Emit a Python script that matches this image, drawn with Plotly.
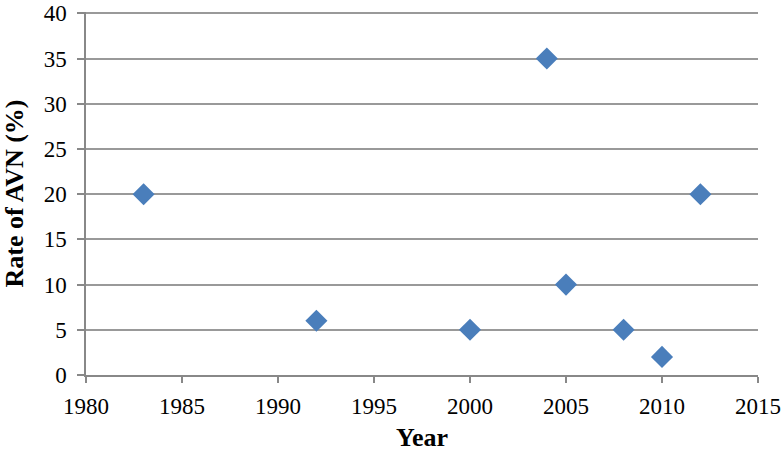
import plotly.graph_objects as go

years = [1983, 1992, 2000, 2004, 2005, 2008, 2010, 2012]
rates = [20, 6, 5, 35, 10, 5, 2, 20]
x_ticks = [1980, 1985, 1990, 1995, 2000, 2005, 2010, 2015]
y_ticks = [0, 5, 10, 15, 20, 25, 30, 35, 40]

fig = go.Figure()
fig.add_trace(go.Scatter(
    x=years, y=rates, mode="markers",
    marker=dict(symbol="diamond", size=17, color="#4a7ebb",
                line=dict(width=0)),
    showlegend=False,
))

font_family = "Liberation Serif"
fig.update_layout(
    width=783, height=452,
    margin=dict(l=86, r=25, t=12, b=77),
    paper_bgcolor="white", plot_bgcolor="white",
    font=dict(family=font_family, size=23, color="black"),
    xaxis=dict(
        range=[1980, 2015], tickvals=x_ticks, showgrid=False,
        showline=True, linecolor="#888888", linewidth=1.5,
        ticks="outside", ticklen=6, tickcolor="#888888", tickwidth=1.5,
        zeroline=False, automargin=False, ticklabelstandoff=4,
        ticklabeloverflow="allow",
        title=dict(text="<b>Year</b>", font=dict(size=26)),
    ),
    yaxis=dict(
        range=[0, 40.15], tickvals=y_ticks, showgrid=True,
        gridcolor="#999999", gridwidth=1.5,
        showline=True, linecolor="#888888", linewidth=1.5,
        ticks="outside", ticklen=7, tickcolor="#888888", tickwidth=1.5,
        zeroline=False, automargin=False, ticklabelstandoff=6,
        ticklabeloverflow="allow",
        title=dict(text="<b>Rate of AVN (%)</b>", font=dict(size=26)),
    ),
)

fig.write_html("out.html", config={"displayModeBar": False},
               post_script="document.body.style.margin='0';")
